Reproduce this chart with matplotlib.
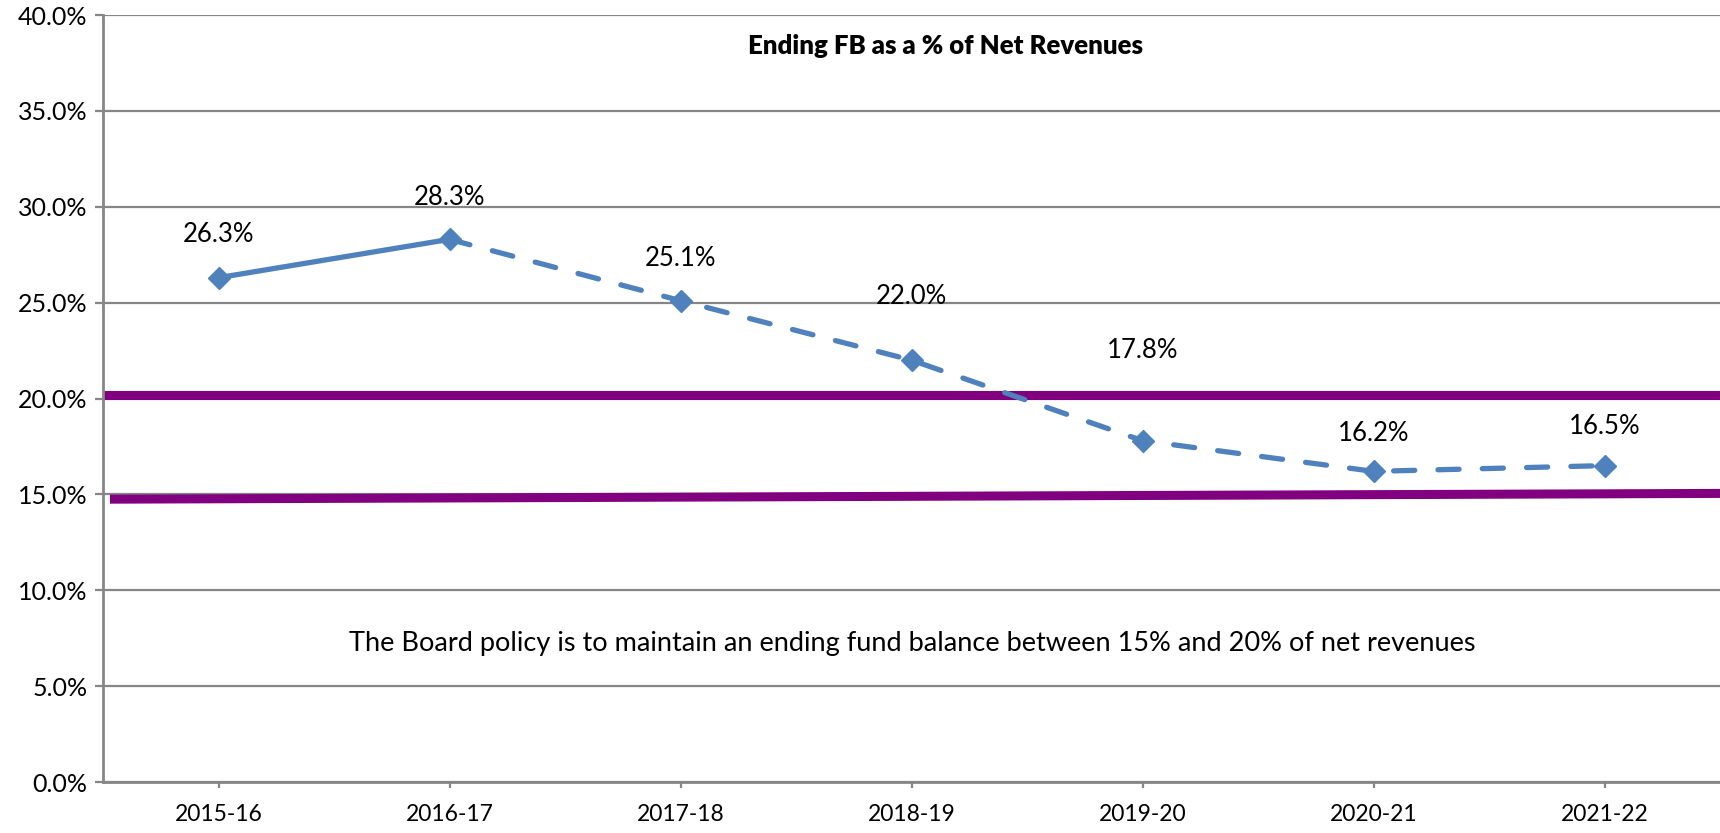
import matplotlib
matplotlib.use("Agg")
import matplotlib.pyplot as plt

# data
years = ["2015-16", "2016-17", "2017-18", "2018-19", "2019-20", "2020-21", "2021-22"]
fb_pct = [26.3, 28.3, 25.1, 22.0, 17.8, 16.2, 16.5]
policy_x = [-0.5, 6.5]
policy_high = [20.2, 20.2]
policy_low = [14.75, 15.05]

# label offsets above each point (pixels), Excel labels were moved by hand
lbl_dy = [43, 42, 42, 64, 90, 38, 39]

plt.rcParams['font.family'] = ['Lato', 'DejaVu Sans']

fig = plt.figure(figsize=(17.2, 8.33), dpi=100)
ax = fig.add_axes([103/1720, 51/833, 1 - 103/1720, 767/833])

grey = '#868686'
blue = '#4F81BD'
purple = '#800080'

ax.set_xlim(-0.5, 6.5)
ax.set_ylim(0, 40)
ax.set_yticks(range(0, 41, 5))
ax.set_yticklabels(["%.1f%%" % v for v in range(0, 41, 5)])
ax.set_xticks(range(len(years)))
ax.set_xticklabels(years)
ax.grid(axis='y', color=grey, lw=1.6)
ax.set_axisbelow(True)
for s in ['top', 'right']:
    ax.spines[s].set_visible(False)
for s in ['left', 'bottom']:
    ax.spines[s].set_color(grey)
    ax.spines[s].set_linewidth(2)
ax.tick_params(axis='y', length=6, width=1.6, color=grey, labelsize=18, pad=5)
ax.tick_params(axis='x', length=4, width=1.6, color=grey, labelsize=16.5, pad=12)

# board policy band
ax.plot(policy_x, policy_high, color=purple, lw=6.5, solid_capstyle='butt', zorder=2, clip_on=False)
ax.plot([-0.47, 6.5], policy_low, color=purple, lw=6.5, solid_capstyle='butt', zorder=2, clip_on=False)

xs = list(range(len(years)))
# actual (solid) then projected (dashed)
ax.plot(xs[:2], fb_pct[:2], color=blue, lw=3.8, solid_capstyle='round', zorder=3)
ax.plot(xs[1:], fb_pct[1:], color=blue, lw=3.8, dashes=(4, 4.4), dash_capstyle='round', zorder=3)
ax.plot(xs, fb_pct, ls='none', marker='D', ms=11, color=blue, mec=blue, zorder=4)

for x, v, dy in zip(xs, fb_pct, lbl_dy):
    ax.annotate("%.1f%%" % v, (x, v), xytext=(0, dy * 0.72), textcoords='offset points',
                ha='center', va='center', fontsize=18.5)

ax.text((946 - 103) / (1720 - 103), 1 - (46 - 15) / 767, "Ending FB as a % of Net Revenues",
        transform=ax.transAxes, ha='center', va='center', fontsize=18.5, fontweight='heavy')
ax.text((912 - 103) / (1720 - 103), 1 - (643 - 15) / 767,
        "The Board policy is to maintain an ending fund balance between 15% and 20% of net revenues",
        transform=ax.transAxes, ha='center', va='center', fontsize=19.5)

fig.savefig("out.png", dpi=100)
